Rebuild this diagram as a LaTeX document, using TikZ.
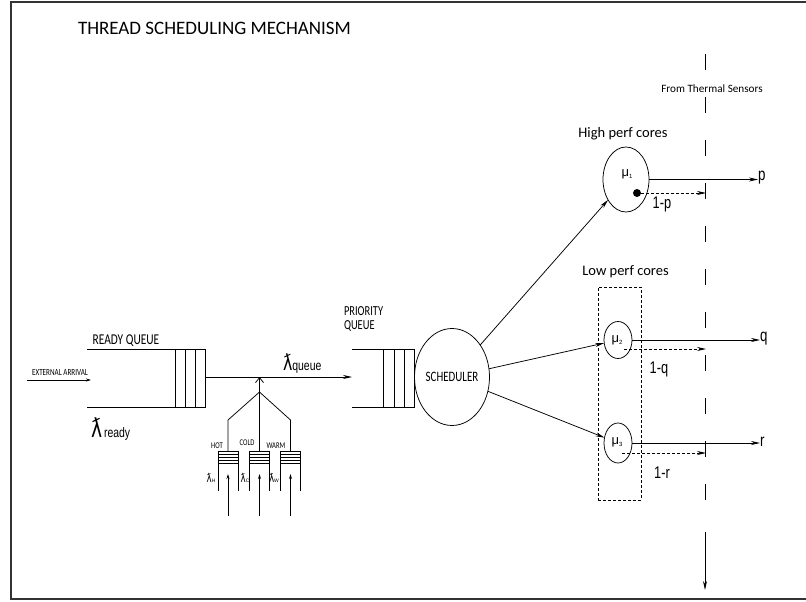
\documentclass[tikz,border=0pt]{standalone}
\usepackage{fontspec}
\setmainfont{Carlito}
\newfontfamily\arialf{Liberation Sans}
\newfontfamily\djv{DejaVu Sans}
\usetikzlibrary{arrows.meta,shapes.geometric}
\newcommand{\fs}[1]{\fontsize{#1}{#1}\selectfont}
\newcommand{\lamb}[1]{\scalebox{0.72}[1]{\djv\fs{#1}ƛ}}
\newcommand{\tall}[1]{\scalebox{0.95}[1.25]{#1}}
\begin{document}
\begin{tikzpicture}[x=1pt,y=-1pt,
  every node/.style={inner sep=0pt,outer sep=0pt},
  ln/.style={line width=0.75pt},
  arr/.style={ln,-{Stealth[length=9pt,width=4pt]}},
  sarr/.style={ln,-{Stealth[length=5pt,width=3pt]}},
  barb/.style={ln,-{Straight Barb[length=5pt,width=8pt]}},
  darr/.style={ln,dash pattern=on 3pt off 2pt,-{Stealth[length=9pt,width=4pt]}},
  core/.style={ellipse,draw,ln},
  qbox/.style={draw,ln,rectangle},
  src/.style={draw,ln,rectangle,minimum width=20pt,minimum height=12pt},
  txt/.style={font=\fs{#1}},
  atxt/.style={font=\arialf\fs{#1}}
]
\useasboundingbox (0,0) rectangle (806,602);
% frame
\draw[line width=1.2pt,black!80] (806,2) -- (11,2) -- (11,599) -- (806,599);

% title
\node[txt=19,anchor=west] (title) at (78,28) {THREAD SCHEDULING MECHANISM};

% external arrival
\node[txt=7.5] (ext) at (60,372) {\tall{EXTERNAL ARRIVAL}};
\coordinate (ea0) at (27,380);
\coordinate (ea1) at (91,380);
\draw[sarr] (ea0) -- (ea1);

% ready queue
\node[txt=12] (rqlabel) at (126,341) {\tall{READY QUEUE}};
\node[qbox,minimum width=30pt,minimum height=58pt] (rq) at (190,378) {};
\foreach \x in {185,195} \draw[ln] (\x,349) -- (\x,407);
\coordinate (rqtl) at (87,349);
\coordinate (rqbl) at (87,407);
\draw[ln] (rqtl) -- (rq.north east);
\draw[ln] (rqbl) -- (rq.south east);
\node[anchor=west] (lready) at (91,429) {\lamb{26}\hspace{2pt}{\arialf\fs{11}\tall{ready}}};

% priority queue
\node[txt=11,anchor=west] (pqlabel1) at (344,311) {\tall{PRIORITY}};
\node[txt=11,anchor=west] (pqlabel2) at (344,326) {\tall{QUEUE}};
\node[qbox,minimum width=31pt,minimum height=58pt] (pq) at (398.5,378) {};
\foreach \x in {394,404} \draw[ln] (\x,349) -- (\x,407);
\coordinate (pqtl) at (352,349);
\coordinate (pqbl) at (352,407);
\draw[ln] (pqtl) -- (pq.north east);
\draw[ln] (pqbl) -- (pq.south east);

% queue arrow
\coordinate (pqin) at (352,377);
\coordinate (rqout) at (205,377);
\draw[arr] (rqout) -- (pqin);
\node[anchor=south west] (lqueue) at (283,373) {\lamb{22}{\arialf\fs{11}\tall{queue}}};

% thread sources
\node[src] (hq) at (228,457) {};
\node[src] (cq) at (259.5,457) {};
\node[src] (wq) at (290.5,457) {};
\foreach \n in {hq,cq,wq}{
  \foreach \d in {-3,0,3} \draw[ln] ([yshift=\d pt]\n.west) -- ([yshift=\d pt]\n.east);
}
\coordinate (fv) at (259.5,392);
\coordinate (fl) at (228,420);
\coordinate (fr) at (290.5,420);
\coordinate (qa) at (259.5,377);
\draw[ln] (hq.north) -- (fl) -- (fv) -- (fr) -- (wq.north);
\draw[barb] (cq.north) -- (qa);
\node[txt=7] (hot) at (217,446) {\tall{HOT}};
\node[txt=7] (cold) at (247,443) {\tall{COLD}};
\node[txt=7] (warm) at (276,446) {\tall{WARM}};
\foreach \n/\x in {hq/228,cq/259.5,wq/290.5}{
  \draw[ln] (\n.south west) -- ++(0,28);
  \draw[ln] (\n.south east) -- ++(0,28);
  \coordinate (\n in) at (\x,516);
  \coordinate (\n tip) at (\x,474);
  \draw[sarr] (\n in) -- (\n tip);
}
\node (lh) at (211,478) {\lamb{12}{\arialf\fs{5}H}};
\node (lc) at (245,478) {\lamb{12}{\arialf\fs{5}C}};
\node (lw) at (274,478) {\lamb{12}{\arialf\fs{5}W}};

% scheduler
\node[core,minimum width=75pt,minimum height=97pt,txt=11.5] (sch) at (452,377) {\tall{SCHEDULER}};

% cores
\node[txt=14.5] (high) at (623,134) {High perf cores};
\node[txt=14.5] (low) at (625.5,272) {Low perf cores};
\node[draw,ln,dash pattern=on 3pt off 2pt,minimum width=43pt,minimum height=213pt] (lowbox) at (619.5,393.5) {};

\node[core,minimum width=46pt,minimum height=65pt] (mu1) at (626,179.5) {};
\node (mu1l) at (627,174) {\arialf\fs{13}μ\raisebox{-2pt}{\fs{6}1}};
\node[circle,fill,minimum size=8pt] (d1) at (637,193) {};

\node[core,minimum width=28pt,minimum height=37pt] (mu2) at (618,340) {};
\node (mu2l) at (617,340) {\arialf\fs{13}μ\raisebox{-2pt}{\fs{6}2}};
\node[core,minimum width=28pt,minimum height=40pt] (mu3) at (618,443) {};
\node (mu3l) at (617,442) {\arialf\fs{13}μ\raisebox{-2pt}{\fs{6}3}};

\draw[arr] (sch) -- (mu1);
\draw[arr] (sch) -- (mu2);
\draw[arr] (sch) -- (mu3);

% outputs
\node[atxt=14,anchor=west] (p) at (758,178) {\tall{p}};
\node[atxt=14,anchor=west] (q) at (760,339) {\tall{q}};
\node[atxt=14,anchor=west] (r) at (760,442) {\tall{r}};
\draw[arr] (mu1.east) -- (p.west |- mu1.east);
\draw[arr] (mu2.east) -- (q.west |- mu2.east);
\draw[arr] (mu3.east) -- (r.west |- mu3.east);

\coordinate (t1) at (706,193);
\coordinate (s2) at (624,349);
\coordinate (t2) at (706,349);
\coordinate (s3) at (622,453);
\coordinate (t3) at (706,453);
\draw[darr] (d1) -- (t1);
\draw[darr] (s2) -- (t2);
\draw[darr] (s3) -- (t3);
\node[atxt=13.5] (np) at (662,204) {\tall{1-p}};
\node[atxt=13.5] (nq) at (659,369) {\tall{1-q}};
\node[atxt=13.5] (nr) at (662,473) {\tall{1-r}};

% thermal sensors line
\node[txt=11.2] (therm) at (712,89) {From Thermal Sensors};
\coordinate (ts) at (705,54);
\coordinate (te) at (705,510);
\coordinate (tf) at (705,532);
\coordinate (tb) at (705,590);
\draw[ln,dash pattern=on 16pt off 27pt] (ts) -- (te);
\draw[arr] (tf) -- (tb);
\end{tikzpicture}
\end{document}
